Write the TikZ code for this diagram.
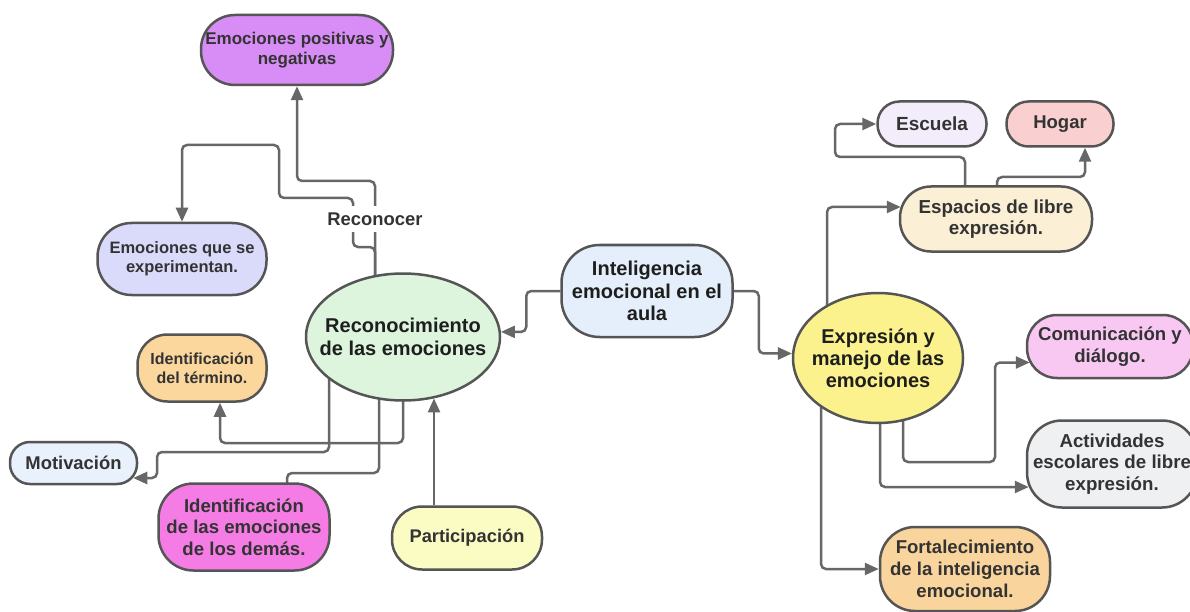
\documentclass[tikz,border=0pt]{standalone}
\usepackage{fontspec}
\setmainfont{Liberation Sans}
\usetikzlibrary{shapes.geometric,arrows.meta,calc}
\pgfdeclarelayer{bg}
\pgfsetlayers{bg,main}
\definecolor{bordc}{HTML}{555555}
\definecolor{linec}{HTML}{676767}
\definecolor{txt}{HTML}{333333}
\definecolor{txtd}{HTML}{1E1E1E}
\definecolor{cEpn}{HTML}{D88CF5}
\definecolor{cEqs}{HTML}{DADAFB}
\definecolor{cRec}{HTML}{DCF5DC}
\definecolor{cIdt}{HTML}{FBD79E}
\definecolor{cMot}{HTML}{E8F1FC}
\definecolor{cIde}{HTML}{F57CE5}
\definecolor{cPar}{HTML}{FBFBC4}
\definecolor{cInt}{HTML}{E5EFFB}
\definecolor{cExp}{HTML}{FBF28E}
\definecolor{cEsp}{HTML}{FBF0D5}
\definecolor{cEsc}{HTML}{F3EDFB}
\definecolor{cHog}{HTML}{F9CFD0}
\definecolor{cCom}{HTML}{F8C8F3}
\definecolor{cAct}{HTML}{EFF0F2}
\definecolor{cFor}{HTML}{F9D49C}
\tikzset{
  box/.style={draw=bordc, line width=2.5pt, align=center, inner sep=0pt, text=txt},
  oval/.style={draw=bordc, line width=2.5pt, shape=ellipse, inner sep=0pt},
  fs/.style 2 args={font=\fontsize{#1}{#2}\selectfont\bfseries},
  conn/.style={draw=linec, line width=2.5pt, rounded corners=5pt},
  arr/.style={conn, -{Triangle[length=14pt,width=12pt]}},
}
\begin{document}
\begin{tikzpicture}[x=1pt,y=-1pt]
\useasboundingbox (0,0) rectangle (1190,612);
% nodes
\node[box, fill=cEpn, minimum width=192pt, minimum height=70pt, rounded corners=34pt, fs={17}{19.5}] (epn) at (297,50) {Emociones positivas y\\negativas};
\node[box, fill=cEqs, minimum width=169pt, minimum height=72pt, rounded corners=34pt, fs={16.5}{19}] (eqs) at (182,259) {Emociones que se\\experimentan.};
\node[oval, fill=cRec, minimum width=194pt, minimum height=127pt] (rec) at (403,337) {};
\node[align=center, inner sep=0pt, text=txtd, fs={20}{22.5}] (rect) at (rec.center) {Reconocimiento\\de las emociones};
\node[box, fill=cIdt, minimum width=129pt, minimum height=67pt, rounded corners=30pt, fs={16}{18.5}] (idt) at (202,368) {Identificación\\del término.};
\node[box, fill=cMot, minimum width=127pt, minimum height=42pt, rounded corners=20pt, fs={18.4}{21}] (mot) at (73.5,463) {Motivación};
\node[box, fill=cIde, minimum width=171pt, minimum height=87pt, rounded corners=35pt, fs={18.6}{21.5}] (ide) at (244,527) {Identificación\\de las emociones\\de los demás.};
\node[box, fill=cPar, minimum width=150pt, minimum height=63pt, rounded corners=30pt, fs={18.3}{21}] (par) at (467,538) {Participación};
\node[box, fill=cInt, minimum width=171pt, minimum height=92pt, rounded corners=38pt, text=txtd, fs={20}{22.5}] (int) at (647,291) {Inteligencia\\emocional en el\\aula};
\node[oval, fill=cExp, minimum width=170pt, minimum height=130pt] (exp) at (878,358) {};
\node[align=center, inner sep=0pt, text=txtd, fs={20}{22}] (expt) at (exp.center) {Expresión y\\manejo de las\\emociones};
\node[box, fill=cEsp, minimum width=192pt, minimum height=65pt, rounded corners=31pt, fs={18.8}{21.5}] (esp) at (996,219) {Espacios de libre\\expresión.};
\node[box, fill=cEsc, minimum width=109pt, minimum height=45pt, rounded corners=22pt, fs={19}{21}] (esc) at (932,124) {Escuela};
\node[box, fill=cHog, minimum width=107pt, minimum height=45pt, rounded corners=22pt, fs={18.5}{21}] (hog) at (1060,124) {Hogar};
\node[box, fill=cCom, minimum width=166pt, minimum height=63pt, rounded corners=30pt, fs={18.6}{21.5}] (com) at (1110,346.5) {Comunicación y\\diálogo.};
\node[box, fill=cAct, minimum width=170pt, minimum height=87pt, rounded corners=35pt, fs={18.7}{21.5}] (act) at (1112,464) {Actividades\\escolares de libre\\expresión.};
\node[box, fill=cFor, minimum width=170pt, minimum height=84pt, rounded corners=35pt, fs={18.6}{22}] (for) at (965,569) {Fortalecimiento\\de la inteligencia\\emocional.};
\coordinate (p1) at ($(par.north)+(-33,0)$);
% connectors
\begin{pgfonlayer}{bg}
\fill[white] (0,0) rectangle (1190,612);
\draw[arr] ($(rec.center)+(-28,0)$) |- (297,181) -- (epn.south);
\draw[arr] ($(rec.center)+(-28,0)$) |- (353,247) |- (279,198) |- (182,145) -- (eqs.north);
\draw[arr] (rec.center) |- (220,443) -- ($(idt.south)+(18,0)$);
\draw[arr] ($(rec.center)+(-74,0)$) |- (157,452) |- ($(mot.east)+(-5,15)$);
\draw[conn] ($(rec.center)+(-24,0)$) |- (287,473) -- ($(ide.north)+(43,8)$);
\draw[arr] (p1) -- (p1 |- rec.-63);
\draw[arr] (int.west) -- ++(-34,0) |- (rec.3);
\draw[arr] (int.east) -- ++(25,0) |- (exp.177);
\draw[arr] ($(exp.center)+(-51,0)$) |- ($(esp.west)+(2,-12)$);
\draw[arr] ($(esp.center)+(-31,0)$) |- (835,157) |- (esc.west);
\draw[arr] ($(esp.center)+(1,0)$) |- (1085,177) -- ($(hog.south)+(25,0)$);
\draw[arr] ($(exp.center)+(25,0)$) |- (995,462) |- ($(com.west)+(4,16)$);
\draw[arr] ($(exp.center)+(2,0)$) |- ($(act.west)+(3,23)$);
\draw[arr] ($(exp.center)+(-57,0)$) |- (for.west);
\end{pgfonlayer}
\node[fill=white, inner xsep=1pt, inner ysep=7pt, text=txt, fs={18.4}{20}] (lab) at (375,219) {Reconocer};
\end{tikzpicture}
\end{document}
